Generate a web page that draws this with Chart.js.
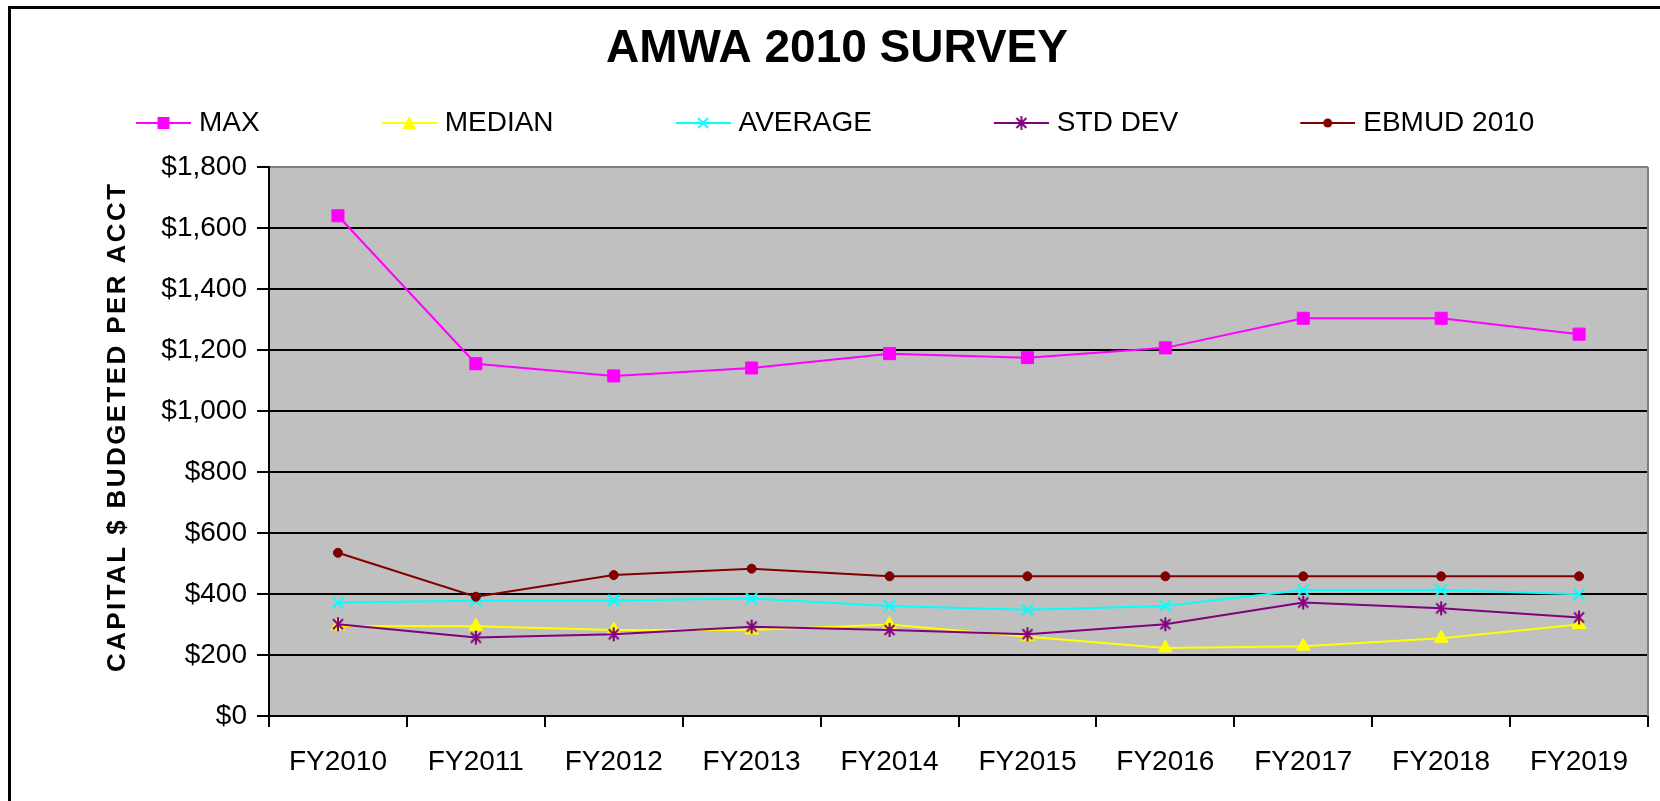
<!DOCTYPE html>
<html>
<head>
<meta charset="utf-8">
<title>AMWA 2010 SURVEY</title>
<script src="https://cdn.jsdelivr.net/npm/chart.js@4.4.1/dist/chart.umd.min.js"></script>
<style>
  html, body { margin: 0; padding: 0; background: #ffffff; }
  #chart { display: block; }
</style>
</head>
<body>
<canvas id="chart" width="1660" height="801"></canvas>
<script>
// ---- data ----
const years = ['FY2010', 'FY2011', 'FY2012', 'FY2013', 'FY2014', 'FY2015', 'FY2016', 'FY2017', 'FY2018', 'FY2019'];
const maxVals    = [1640, 1155, 1115, 1141, 1188, 1175, 1207, 1304, 1304, 1252];
const medianVals = [295, 294, 282, 282, 300, 260, 223, 229, 255, 300];
const avgVals    = [372, 378, 379, 385, 361, 348, 361, 413, 413, 399];
const stdVals    = [301, 257, 268, 293, 282, 268, 301, 372, 353, 323];
const ebmudVals  = [535, 391, 462, 483, 458, 458, 458, 458, 458, 458];
const seriesNames = ['MAX', 'MEDIAN', 'AVERAGE', 'STD DEV', 'EBMUD 2010'];
const yTicks = [0, 200, 400, 600, 800, 1000, 1200, 1400, 1600, 1800];
const chartTitle = 'AMWA 2010 SURVEY';
const yTitle = 'CAPITAL $ BUDGETED PER ACCT';

const FONT = "'Liberation Sans', Arial, sans-serif";
Chart.defaults.font.family = FONT;
Chart.defaults.color = '#000000';

const colors = ['#ff00ff', '#ffff00', '#00ffff', '#800080', '#800000'];

// ---- marker drawing (legend swatches + the asterisk points) ----
function drawSquare(g, x, y, c) { g.fillStyle = c; g.fillRect(x - 6, y - 6, 12, 12); }
function drawTriangle(g, x, y, c) {
  g.fillStyle = c;
  g.beginPath(); g.moveTo(x, y - 7); g.lineTo(x + 7, y + 6); g.lineTo(x - 7, y + 6); g.closePath(); g.fill();
}
function drawX(g, x, y, c) {
  g.strokeStyle = c; g.lineWidth = 2;
  g.beginPath(); g.moveTo(x - 5, y - 5); g.lineTo(x + 5, y + 5); g.moveTo(x + 5, y - 5); g.lineTo(x - 5, y + 5); g.stroke();
}
function drawAsterisk(g, x, y, c) {
  g.strokeStyle = c; g.lineWidth = 2;
  g.beginPath();
  g.moveTo(x, y - 7); g.lineTo(x, y + 7);
  g.moveTo(x - 5, y - 5); g.lineTo(x + 5, y + 5);
  g.moveTo(x + 5, y - 5); g.lineTo(x - 5, y + 5);
  g.stroke();
}
function drawDot(g, x, y, c) { g.fillStyle = c; g.beginPath(); g.arc(x, y, 4.5, 0, Math.PI * 2); g.fill(); }
const markerFns = [drawSquare, drawTriangle, drawX, drawAsterisk, drawDot];

const asteriskPoint = document.createElement('canvas');
asteriskPoint.width = 16; asteriskPoint.height = 16;
drawAsterisk(asteriskPoint.getContext('2d'), 8, 8, colors[3]);

// legend swatch: transparent lead-in, then a short line with the marker on it
const LEG_PAD = 25;
const OFF = 100;
const BOX_W = OFF + 46;
function legendSwatch(i) {
  const c = document.createElement('canvas');
  c.width = OFF + 58; c.height = 20;
  const g = c.getContext('2d');
  g.strokeStyle = colors[i]; g.lineWidth = 2;
  g.beginPath(); g.moveTo(OFF + 3, 10); g.lineTo(OFF + 58, 10); g.stroke();
  markerFns[i](g, OFF + 30.5, 10, colors[i]);
  return c;
}
const swatches = seriesNames.map((n, i) => legendSwatch(i));

// ---- plugins: frame, plot background, rotated axis title ----
const framePlugin = {
  id: 'frame',
  beforeDraw(chart) {
    const { ctx, chartArea: a } = chart;
    ctx.save();
    ctx.fillStyle = '#c0c0c0';
    ctx.fillRect(a.left, a.top, a.right - a.left, a.bottom - a.top);
    ctx.restore();
  },
  beforeDatasetsDraw(chart) {
    const { ctx, chartArea: a } = chart;
    ctx.save();
    ctx.strokeStyle = '#808080';
    ctx.lineWidth = 2;
    ctx.beginPath(); ctx.moveTo(a.right, a.top); ctx.lineTo(a.right, a.bottom); ctx.stroke();
    ctx.restore();
  },
  afterDraw(chart) {
    const ctx = chart.ctx;
    ctx.save();
    ctx.fillStyle = '#000000';
    ctx.fillRect(8, 6, 3, 795);
    ctx.fillRect(8, 6, 1652, 3);
    ctx.translate(118, 428);
    ctx.rotate(-Math.PI / 2);
    ctx.font = 'bold 26px ' + FONT;
    if ('letterSpacing' in ctx) ctx.letterSpacing = '2.4px';
    ctx.textAlign = 'center';
    ctx.textBaseline = 'middle';
    ctx.fillText(yTitle, 1.2, 0);
    ctx.restore();
  }
};

function line(label, data, i, extra) {
  return Object.assign({
    label: label,
    data: data,
    borderColor: colors[i],
    backgroundColor: colors[i],
    borderWidth: 2,
    tension: 0,
    pointBorderWidth: 1,
    order: 5 - i
  }, extra);
}

new Chart(document.getElementById('chart'), {
  type: 'line',
  data: {
    labels: years,
    datasets: [
      line(seriesNames[0], maxVals, 0, { pointStyle: 'rect', pointRadius: 8.5 }),
      line(seriesNames[1], medianVals, 1, { pointStyle: 'triangle', pointRadius: 8 }),
      line(seriesNames[2], avgVals, 2, { pointStyle: 'crossRot', pointRadius: 8, pointBorderWidth: 2 }),
      line(seriesNames[3], stdVals, 3, { pointStyle: asteriskPoint }),
      line(seriesNames[4], ebmudVals, 4, { pointStyle: 'circle', pointRadius: 4.5 })
    ]
  },
  options: {
    responsive: false,
    animation: false,
    layout: { padding: { left: 14, right: 0, top: 0, bottom: 0 } },
    plugins: {
      title: {
        display: true,
        text: chartTitle,
        color: '#000000',
        font: { size: 46, weight: 'bold', lineHeight: 1.2 },
        padding: { top: 22, bottom: 6.8 }
      },
      legend: {
        display: true,
        align: 'start',
        labels: {
          usePointStyle: true,
          pointStyleWidth: BOX_W,
          padding: LEG_PAD,
          color: '#000000',
          font: { size: 28 },
          generateLabels: chart => chart.data.datasets.map((ds, i) => ({
            text: ds.label,
            fillStyle: colors[i],
            strokeStyle: colors[i],
            lineWidth: 0,
            pointStyle: swatches[i],
            hidden: false,
            datasetIndex: i,
            fontColor: '#000000'
          }))
        }
      },
      tooltip: { enabled: false }
    },
    scales: {
      x: {
        type: 'category',
        offset: true,
        grid: { offset: true, drawOnChartArea: false, tickLength: 11, color: '#000000', lineWidth: 2 },
        border: { display: true, color: '#000000', width: 2 },
        ticks: { font: { size: 28 }, color: '#000000', padding: 18, maxRotation: 0, autoSkip: false },
        afterFit: s => { s.height = 85; }
      },
      xTop: {
        type: 'category',
        position: 'top',
        grid: { display: false },
        border: { display: false },
        ticks: { display: false },
        afterFit: s => { s.height = 20; }
      },
      y: {
        min: yTicks[0],
        max: yTicks[yTicks.length - 1],
        afterBuildTicks: s => { s.ticks = yTicks.map(v => ({ value: v })); },
        grid: {
          color: c => (c.tick && c.tick.value === yTicks[yTicks.length - 1]) ? '#808080' : '#000000',
          tickColor: '#000000',
          lineWidth: 2,
          tickLength: 12
        },
        border: { display: true, color: '#000000', width: 2 },
        ticks: {
          font: { size: 28 },
          color: '#000000',
          padding: 10,
          callback: v => '$' + Number(v).toLocaleString('en-US')
        },
        afterFit: s => { s.width = 255; }
      },
      yRight: {
        type: 'linear',
        position: 'right',
        grid: { display: false },
        border: { display: false },
        ticks: { display: false },
        afterFit: s => { s.width = 12; }
      }
    }
  },
  plugins: [framePlugin]
});
</script>
</body>
</html>
